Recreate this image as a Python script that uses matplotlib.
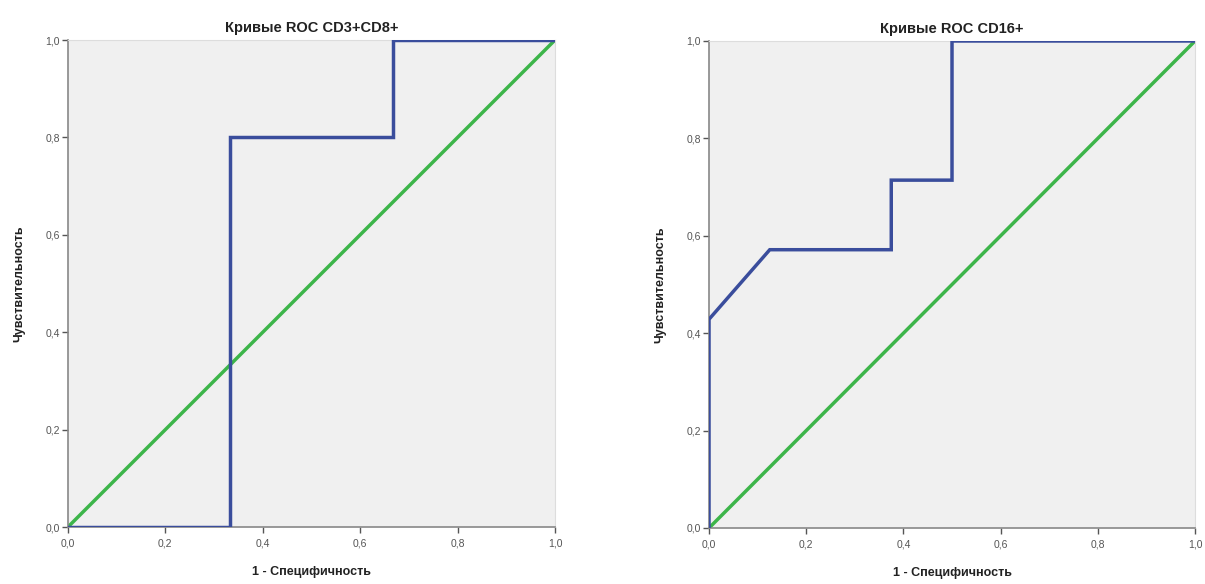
import numpy as np
import matplotlib
matplotlib.use('Agg')
import matplotlib.pyplot as plt
from matplotlib.ticker import FuncFormatter

plt.rcParams['font.family'] = ['Liberation Sans', 'DejaVu Sans']

# ROC CD3+CD8+
fprLeft = [0.0, 1 / 3, 1 / 3, 2 / 3, 2 / 3, 1.0]
tprLeft = [0.0, 0.0, 0.8, 0.8, 1.0, 1.0]

# ROC CD16+
fprRight = [0.0, 0.0, 0.125, 0.375, 0.375, 0.5, 0.5, 1.0]
tprRight = [0.0, 3 / 7, 4 / 7, 4 / 7, 5 / 7, 5 / 7, 1.0, 1.0]

titles = ['Кривые ROC CD3+CD8+', 'Кривые ROC CD16+']
ticks = [0.0, 0.2, 0.4, 0.6, 0.8, 1.0]

blue = '#3a4d9c'
green = '#3db54a'
gray = '#555555'


def commaFormat(value, pos):
    return ('%.1f' % value).replace('.', ',')


def drawRoc(ax, fpr, tpr, title):
    ax.set_facecolor('#f0f0f0')
    ax.plot([0, 1], [0, 1], color=green, linewidth=2.5, solid_capstyle='butt', zorder=2)
    ax.plot(fpr, tpr, color=blue, linewidth=2.5, solid_joinstyle='miter', zorder=3)
    ax.set_xlim(0, 1)
    ax.set_ylim(0, 1)
    ax.set_xticks(ticks)
    ax.set_yticks(ticks)
    ax.xaxis.set_major_formatter(FuncFormatter(commaFormat))
    ax.yaxis.set_major_formatter(FuncFormatter(commaFormat))
    ax.tick_params(labelsize=7.5, labelcolor=gray, color=gray, length=4, width=1, pad=2)
    ax.tick_params(axis='x', pad=4)
    for side in ['top', 'right']:
        ax.spines[side].set_color('#dddddd')
        ax.spines[side].set_linewidth(0.8)
    for side in ['left', 'bottom']:
        ax.spines[side].set_color('#888888')
        ax.spines[side].set_linewidth(1.2)
    ax.set_title(title, fontsize=10.5, fontweight='bold', color='#222222', pad=6)
    ax.set_xlabel('1 - Специфичность', fontsize=9, fontweight='bold', color='#222222', labelpad=13)
    ax.set_ylabel('Чувствительность', fontsize=9, fontweight='bold', color='#222222', labelpad=14)


fig = plt.figure(figsize=(12.05, 5.84), dpi=100)
axLeft = fig.add_axes([0.0564, 0.0976, 0.4042, 0.8339])
axRight = fig.add_axes([0.5884, 0.0959, 0.4033, 0.8339])

drawRoc(axLeft, fprLeft, tprLeft, titles[0])
drawRoc(axRight, fprRight, tprRight, titles[1])

fig.savefig('out.png', dpi=100, facecolor='white')
